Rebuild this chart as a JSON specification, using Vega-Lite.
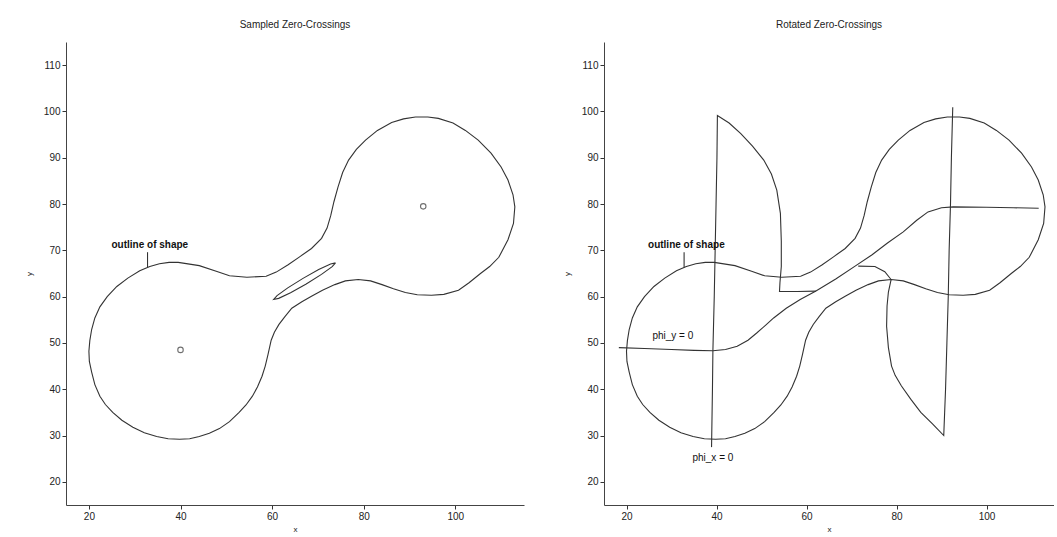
{
  "$schema": "https://vega.github.io/schema/vega-lite/v6.json",
  "padding": {"left": 25, "top": 20, "right": 0, "bottom": 0},
  "spacing": 39,
  "datasets": {
    "outline": [
      {"i":1,"x":39.5,"y":67.4},{"i":2,"x":44.1,"y":66.7},{"i":3,"x":47.8,"y":65.5},{"i":4,"x":50.7,"y":64.5},{"i":5,"x":54.5,"y":64.2},
      {"i":6,"x":58.7,"y":64.4},{"i":7,"x":60.9,"y":65.3},{"i":8,"x":63.5,"y":66.9},{"i":9,"x":66,"y":68.6},{"i":10,"x":68.6,"y":70.4},
      {"i":11,"x":70.8,"y":72.6},{"i":12,"x":72,"y":74.8},{"i":13,"x":72.8,"y":77.5},{"i":14,"x":73.5,"y":80.5},{"i":15,"x":74.4,"y":83.7},
      {"i":16,"x":75.4,"y":86.8},{"i":17,"x":76.7,"y":89.5},{"i":18,"x":78.4,"y":91.8},{"i":19,"x":80.4,"y":93.8},{"i":20,"x":83,"y":95.9},
      {"i":21,"x":86.1,"y":97.6},{"i":22,"x":88.7,"y":98.4},{"i":23,"x":91.3,"y":98.8},{"i":24,"x":94,"y":98.8},{"i":25,"x":96.3,"y":98.5},
      {"i":26,"x":99.5,"y":97.5},{"i":27,"x":102.2,"y":95.9},{"i":28,"x":105,"y":93.8},{"i":29,"x":107.8,"y":91},{"i":30,"x":110,"y":88},
      {"i":31,"x":111.5,"y":85.2},{"i":32,"x":112.6,"y":82},{"i":33,"x":113,"y":79.4},{"i":34,"x":112.7,"y":75.8},{"i":35,"x":111.5,"y":72.3},
      {"i":36,"x":109.5,"y":68.5},{"i":37,"x":107.5,"y":66.5},{"i":38,"x":105.5,"y":65},{"i":39,"x":103,"y":63},{"i":40,"x":100.7,"y":61.4},
      {"i":41,"x":97.5,"y":60.5},{"i":42,"x":94.8,"y":60.3},{"i":43,"x":91.7,"y":60.4},{"i":44,"x":89.1,"y":60.9},{"i":45,"x":86.5,"y":61.7},
      {"i":46,"x":84,"y":62.6},{"i":47,"x":81.5,"y":63.4},{"i":48,"x":78.8,"y":63.7},{"i":49,"x":76,"y":63.4},{"i":50,"x":73.7,"y":62.6},
      {"i":51,"x":71,"y":61.4},{"i":52,"x":68.6,"y":60.1},{"i":53,"x":66.5,"y":58.9},{"i":54,"x":64.3,"y":57.5},{"i":55,"x":62.8,"y":55.7},
      {"i":56,"x":61.5,"y":54},{"i":57,"x":60.5,"y":52.3},{"i":58,"x":59.8,"y":50.6},{"i":59,"x":59.1,"y":47.5},{"i":60,"x":58.5,"y":45},
      {"i":61,"x":57.8,"y":42.8},{"i":62,"x":56.8,"y":40.5},{"i":63,"x":55.7,"y":38.5},{"i":64,"x":54.3,"y":36.6},{"i":65,"x":52.8,"y":35},
      {"i":66,"x":50.7,"y":33},{"i":67,"x":48.5,"y":31.5},{"i":68,"x":46.3,"y":30.5},{"i":69,"x":44.1,"y":29.8},{"i":70,"x":42,"y":29.3},
      {"i":71,"x":39.8,"y":29.2},{"i":72,"x":37.3,"y":29.3},{"i":73,"x":34.8,"y":29.8},{"i":74,"x":32.1,"y":30.6},{"i":75,"x":29.6,"y":31.8},
      {"i":76,"x":27.2,"y":33.3},{"i":77,"x":25.2,"y":35},{"i":78,"x":23.6,"y":36.7},{"i":79,"x":22.4,"y":38.5},{"i":80,"x":21.3,"y":41},
      {"i":81,"x":20.6,"y":43.7},{"i":82,"x":20.1,"y":46},{"i":83,"x":20,"y":48.2},{"i":84,"x":20.2,"y":50.5},{"i":85,"x":20.6,"y":52.9},
      {"i":86,"x":21.3,"y":55.4},{"i":87,"x":22.4,"y":57.8},{"i":88,"x":24,"y":60},{"i":89,"x":26.1,"y":62.2},{"i":90,"x":28.5,"y":64},
      {"i":91,"x":31.1,"y":65.6},{"i":92,"x":33.3,"y":66.5},{"i":93,"x":35.4,"y":67.1},{"i":94,"x":37.5,"y":67.4},{"i":95,"x":39.5,"y":67.4}
    ],
    "ellipse": [
      {"i":1,"x":73.85,"y":67.3},{"i":2,"x":72.77,"y":67.07},{"i":3,"x":70.17,"y":65.85},{"i":4,"x":66.75,"y":63.95},
      {"i":5,"x":63.42,"y":61.9},{"i":6,"x":61.08,"y":60.23},{"i":7,"x":60.35,"y":59.4},{"i":8,"x":61.43,"y":59.63},
      {"i":9,"x":64.03,"y":60.86},{"i":10,"x":67.45,"y":62.75},{"i":11,"x":70.78,"y":64.81},{"i":12,"x":73.12,"y":66.47},{"i":13,"x":73.85,"y":67.3}
    ],
    "centers": [{"x":40,"y":48.5},{"x":93,"y":79.5}],
    "leader": [{"i":1,"x":32.8,"y":69.6},{"i":2,"x":32.8,"y":66.3}],
    "outlineLabel": [{"x":33.3,"y":71.2,"t":"outline of shape"}],
    "phiLabels": [{"x":30.3,"y":51.6,"t":"phi_y = 0"},{"x":39.2,"y":25.2,"t":"phi_x = 0"}],
    "pieces": [
      {"c":"h","i":1,"x":18.3,"y":49},{"c":"h","i":2,"x":24,"y":48.8},{"c":"h","i":3,"x":30,"y":48.6},{"c":"h","i":4,"x":35,"y":48.4},
      {"c":"h","i":5,"x":39.2,"y":48.3},{"c":"h","i":6,"x":42,"y":48.6},{"c":"h","i":7,"x":44.6,"y":49.3},{"c":"h","i":8,"x":47,"y":50.6},
      {"c":"h","i":9,"x":49,"y":52.2},{"c":"h","i":10,"x":51,"y":53.9},{"c":"h","i":11,"x":52.7,"y":55.4},{"c":"h","i":12,"x":55.5,"y":57.5},
      {"c":"h","i":13,"x":58.6,"y":59.4},{"c":"h","i":14,"x":62.1,"y":61.2},{"c":"h","i":15,"x":66.5,"y":63.8},{"c":"h","i":16,"x":70.8,"y":66.6},
      {"c":"h","i":17,"x":74.5,"y":69},{"c":"h","i":18,"x":78,"y":71.6},{"c":"h","i":19,"x":81.5,"y":74},{"c":"h","i":20,"x":84.5,"y":76.5},
      {"c":"h","i":21,"x":87,"y":78.3},{"c":"h","i":22,"x":90,"y":79.2},{"c":"h","i":23,"x":92.6,"y":79.4},{"c":"h","i":24,"x":100,"y":79.3},
      {"c":"h","i":25,"x":106,"y":79.2},{"c":"h","i":26,"x":111.6,"y":79.1},
      {"c":"L","i":1,"x":38.9,"y":27.5},{"c":"L","i":2,"x":39.1,"y":40},{"c":"L","i":3,"x":39.2,"y":48.3},{"c":"L","i":4,"x":39.5,"y":60},
      {"c":"L","i":5,"x":39.7,"y":70},{"c":"L","i":6,"x":39.9,"y":80},{"c":"L","i":7,"x":40.1,"y":90},{"c":"L","i":8,"x":40.2,"y":99.1},
      {"c":"L","i":9,"x":42.8,"y":97.5},{"c":"L","i":10,"x":45.4,"y":95.2},{"c":"L","i":11,"x":48,"y":92.5},{"c":"L","i":12,"x":50.5,"y":89.5},
      {"c":"L","i":13,"x":52.2,"y":86.5},{"c":"L","i":14,"x":53.4,"y":83},{"c":"L","i":15,"x":54.2,"y":78},{"c":"L","i":16,"x":54.4,"y":72},
      {"c":"L","i":17,"x":54.4,"y":66.5},{"c":"L","i":18,"x":54.1,"y":63},{"c":"L","i":19,"x":54,"y":61.1},{"c":"L","i":20,"x":58,"y":61.1},
      {"c":"L","i":21,"x":62.1,"y":61.2},
      {"c":"R","i":1,"x":92.5,"y":100.9},{"c":"R","i":2,"x":92.2,"y":90},{"c":"R","i":3,"x":92,"y":80},{"c":"R","i":4,"x":91.7,"y":70},
      {"c":"R","i":5,"x":91.5,"y":60},{"c":"R","i":6,"x":91.2,"y":50},{"c":"R","i":7,"x":90.9,"y":40},{"c":"R","i":8,"x":90.5,"y":30},
      {"c":"R","i":9,"x":88,"y":32.5},{"c":"R","i":10,"x":85.4,"y":35},{"c":"R","i":11,"x":83.2,"y":37.8},{"c":"R","i":12,"x":81.1,"y":40.7},
      {"c":"R","i":13,"x":79.7,"y":43},{"c":"R","i":14,"x":78.9,"y":45},{"c":"R","i":15,"x":78.2,"y":49},{"c":"R","i":16,"x":77.8,"y":53.6},
      {"c":"R","i":17,"x":77.9,"y":58},{"c":"R","i":18,"x":78.2,"y":61},{"c":"R","i":19,"x":78.8,"y":63.7},{"c":"R","i":20,"x":77.4,"y":65.4},
      {"c":"R","i":21,"x":75.2,"y":66.5},{"c":"R","i":22,"x":71.5,"y":66.6}
    ]
  },
  "hconcat": [
    {
      "width": 458,
      "height": 463,
      "title": {"text": "Sampled Zero-Crossings", "offset": 12},
      "encoding": {
        "x": {"field": "x", "type": "quantitative", "scale": {"domain": [15, 115], "nice": false}, "axis": {"values": [20, 40, 60, 80, 100], "title": "x"}},
        "y": {"field": "y", "type": "quantitative", "scale": {"domain": [15, 115], "nice": false}, "axis": {"values": [20, 30, 40, 50, 60, 70, 80, 90, 100, 110], "title": "y"}}
      },
      "layer": [
        {"data": {"name": "outline"}, "mark": {"type": "line", "color": "#333", "strokeWidth": 1.1}, "encoding": {"order": {"field": "i", "type": "quantitative"}}},
        {"data": {"name": "ellipse"}, "mark": {"type": "line", "color": "#333", "strokeWidth": 1.1}, "encoding": {"order": {"field": "i", "type": "quantitative"}}},
        {"data": {"name": "leader"}, "mark": {"type": "line", "color": "#333", "strokeWidth": 1.1}, "encoding": {"order": {"field": "i", "type": "quantitative"}}},
        {"data": {"name": "centers"}, "mark": {"type": "point", "shape": "circle", "filled": false, "color": "#333", "size": 30, "strokeWidth": 1.1}},
        {"data": {"name": "outlineLabel"}, "mark": {"type": "text", "fontSize": 10, "fontWeight": "bold", "font": "Liberation Sans", "color": "#111"}, "encoding": {"text": {"field": "t"}}}
      ]
    },
    {
      "width": 450,
      "height": 463,
      "title": {"text": "Rotated Zero-Crossings", "offset": 12},
      "encoding": {
        "x": {"field": "x", "type": "quantitative", "scale": {"domain": [15, 115], "nice": false}, "axis": {"values": [20, 40, 60, 80, 100], "title": "x"}},
        "y": {"field": "y", "type": "quantitative", "scale": {"domain": [15, 115], "nice": false}, "axis": {"values": [20, 30, 40, 50, 60, 70, 80, 90, 100, 110], "title": "y"}}
      },
      "layer": [
        {"data": {"name": "outline"}, "mark": {"type": "line", "color": "#333", "strokeWidth": 1.1}, "encoding": {"order": {"field": "i", "type": "quantitative"}}},
        {"data": {"name": "pieces"}, "mark": {"type": "line", "color": "#333", "strokeWidth": 1.1}, "encoding": {"detail": {"field": "c"}, "order": {"field": "i", "type": "quantitative"}}},
        {"data": {"name": "leader"}, "mark": {"type": "line", "color": "#333", "strokeWidth": 1.1}, "encoding": {"order": {"field": "i", "type": "quantitative"}}},
        {"data": {"name": "outlineLabel"}, "mark": {"type": "text", "fontSize": 10, "fontWeight": "bold", "font": "Liberation Sans", "color": "#111"}, "encoding": {"text": {"field": "t"}}},
        {"data": {"name": "phiLabels"}, "mark": {"type": "text", "fontSize": 10, "font": "Liberation Sans", "color": "#111"}, "encoding": {"text": {"field": "t"}}}
      ]
    }
  ],
  "config": {
    "view": {"stroke": null},
    "axis": {"grid": false, "domainColor": "#444", "tickColor": "#333", "tickSize": 4, "labelFontSize": 10, "labelColor": "#222", "labelFont": "Liberation Sans", "titleFont": "Liberation Sans", "titleFontSize": 8, "titleFontWeight": "normal", "titleColor": "#222", "labelPadding": 2},
    "axisY": {"titlePadding": 10},
    "axisX": {"titlePadding": 4},
    "title": {"fontSize": 10, "fontWeight": "normal", "font": "Liberation Sans", "color": "#222"}
  }
}
